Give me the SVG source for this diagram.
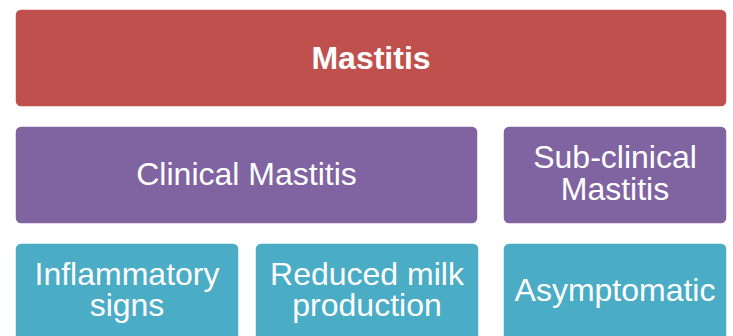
<svg xmlns="http://www.w3.org/2000/svg" width="733" height="336" viewBox="0 0 733 336">
  <style>
    .box { stroke: #ffffff; stroke-width: 1.5; }
    .red { fill: #C0504D; }
    .purple { fill: #8064A2; }
    .teal { fill: #4BACC6; }
    text { font-family: "Liberation Sans", Arial, sans-serif; font-size: 32px; fill: #ffffff; text-anchor: middle; }
    .bold { font-weight: bold; }
  </style>
  <rect width="733" height="336" fill="#ffffff"/>
  <g id="mastitis">
    <rect class="box red" x="15" y="9" width="712" height="98" rx="6"/>
    <text class="bold" x="371" y="69">Mastitis</text>
  </g>
  <g id="clinical">
    <rect class="box purple" x="15" y="126" width="463" height="98" rx="6"/>
    <text x="246.5" y="185">Clinical Mastitis</text>
  </g>
  <g id="subclinical">
    <rect class="box purple" x="503" y="126" width="224" height="98" rx="6"/>
    <text x="615" y="168"><tspan x="615" y="168">Sub-clinical</tspan><tspan x="615" y="200">Mastitis</tspan></text>
  </g>
  <g id="inflammatory">
    <rect class="box teal" x="15" y="243" width="224" height="100" rx="6"/>
    <text x="127" y="285"><tspan x="127" y="285">Inflammatory</tspan><tspan x="127" y="316">signs</tspan></text>
  </g>
  <g id="reduced">
    <rect class="box teal" x="255" y="243" width="224" height="100" rx="6"/>
    <text x="367" y="285"><tspan x="367" y="285">Reduced milk</tspan><tspan x="367" y="316">production</tspan></text>
  </g>
  <g id="asymptomatic">
    <rect class="box teal" x="503" y="243" width="224" height="100" rx="6"/>
    <text x="615" y="301">Asymptomatic</text>
  </g>
  <g id="connectors"></g>
</svg>
